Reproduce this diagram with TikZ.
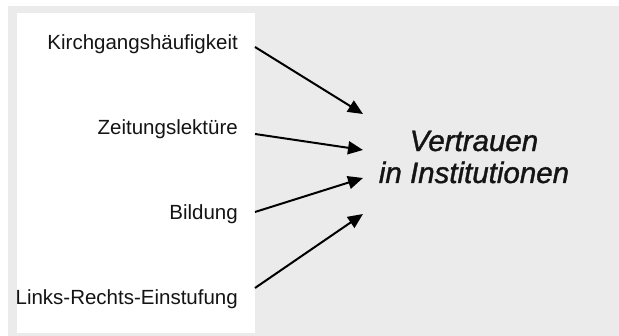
\documentclass[tikz,border=0pt]{standalone}
\usepackage{fontspec}
\setmainfont{Liberation Sans}
\newfontfamily\targetfont[FakeBold=1.2]{Liberation Sans}
\usetikzlibrary{arrows.meta}
\definecolor{bggrey}{HTML}{EBEBEB}
\definecolor{inkc}{HTML}{141414}
\tikzset{
  lbl/.style={anchor=base east, inner sep=0pt, text=inkc, font=\fontsize{20.5}{24}\selectfont},
  target/.style={align=center, inner sep=0pt, text=inkc, font=\targetfont\fontsize{29.5}{32}\selectfont\itshape},
  link/.style={line width=2pt, draw=black, -{Triangle[length=15pt,width=13pt]}}
}
\begin{document}
\begin{tikzpicture}[x=1pt,y=-1pt]
\useasboundingbox (0,0) rectangle (619,336);
\fill[bggrey] (8,6) rectangle (619,336);
\fill[white] (17,13) rectangle (255,333);
\node[lbl] (k) at (238,50) {Kirchgangshäufigkeit};
\node[lbl] (z) at (238,135) {Zeitungslektüre};
\node[lbl] (b) at (238,220) {Bildung};
\node[lbl] (l) at (238,305) {Links-Rechts-Einstufung};
\node[target] (v) at (474,157) {Vertrauen\\in Institutionen};
\coordinate (ks) at (255,47);
\coordinate (zs) at (255,134);
\coordinate (bs) at (255,212);
\coordinate (ls) at (255,288);
\coordinate (kt) at (363,114);
\coordinate (zt) at (363,150);
\coordinate (bt) at (363,178);
\coordinate (lt) at (363,214);
\draw[link] (ks) -- (kt);
\draw[link] (zs) -- (zt);
\draw[link] (bs) -- (bt);
\draw[link] (ls) -- (lt);
\end{tikzpicture}
\end{document}
